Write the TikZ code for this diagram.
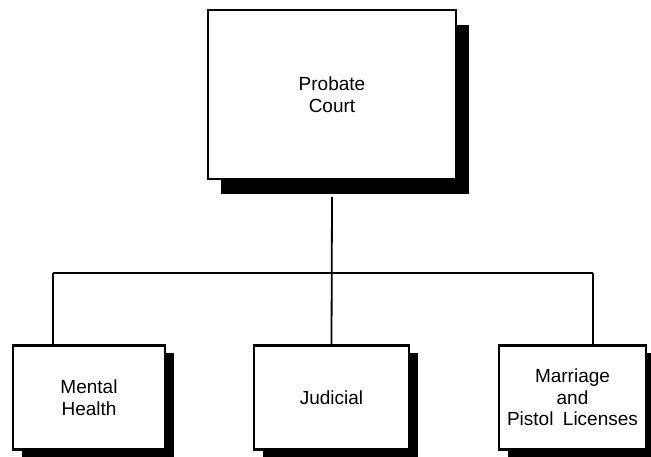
\documentclass[tikz,border=0pt]{standalone}
\usepackage{fontspec}
\setmainfont{Liberation Sans}
\usetikzlibrary{shadows}
\begin{document}
\begin{tikzpicture}[x=1pt,y=-1pt,
  orgbox/.style={draw=black, fill=white, line width=2.5pt, inner sep=0pt,
    align=center, font=\fontsize{19}{21.5}\selectfont},
  bigshadow/.style={drop shadow={shadow xshift=13pt, shadow yshift=-15pt,
    opacity=1, fill=black}},
  smallshadow/.style={drop shadow={shadow xshift=9pt, shadow yshift=-7pt,
    opacity=1, fill=black}},
  link/.style={draw=black, line width=1.8pt}]
\useasboundingbox (0,0) rectangle (651,457);
\fill[white] (0,0) rectangle (651,457);

% head office
\node[orgbox, bigshadow, minimum width=248pt, minimum height=169pt]
  (court) at (332,94.5) {Probate\\Court};

% divisions
\node[orgbox, smallshadow, minimum width=152pt, minimum height=104pt]
  (mental) at (89,397.5) {Mental\\Health};
\node[orgbox, smallshadow, minimum width=155pt, minimum height=104pt]
  (judicial) at (331.5,397.5) {Judicial};
\node[orgbox, smallshadow, minimum width=147pt, minimum height=104pt]
  (licenses) at (572.5,397.5) {Marriage\\and\\Pistol\hspace{0.5em}Licenses};

% branch line
\coordinate (bl) at (53,273);
\coordinate (br) at (593,273);
\path[link] (court.south |- 0,197) -- (judicial.north);
\path[link] (bl) -- (br);
\path[link] (bl) -- (bl |- mental.north);
\path[link] (br) -- (br |- licenses.north);
\end{tikzpicture}
\end{document}
